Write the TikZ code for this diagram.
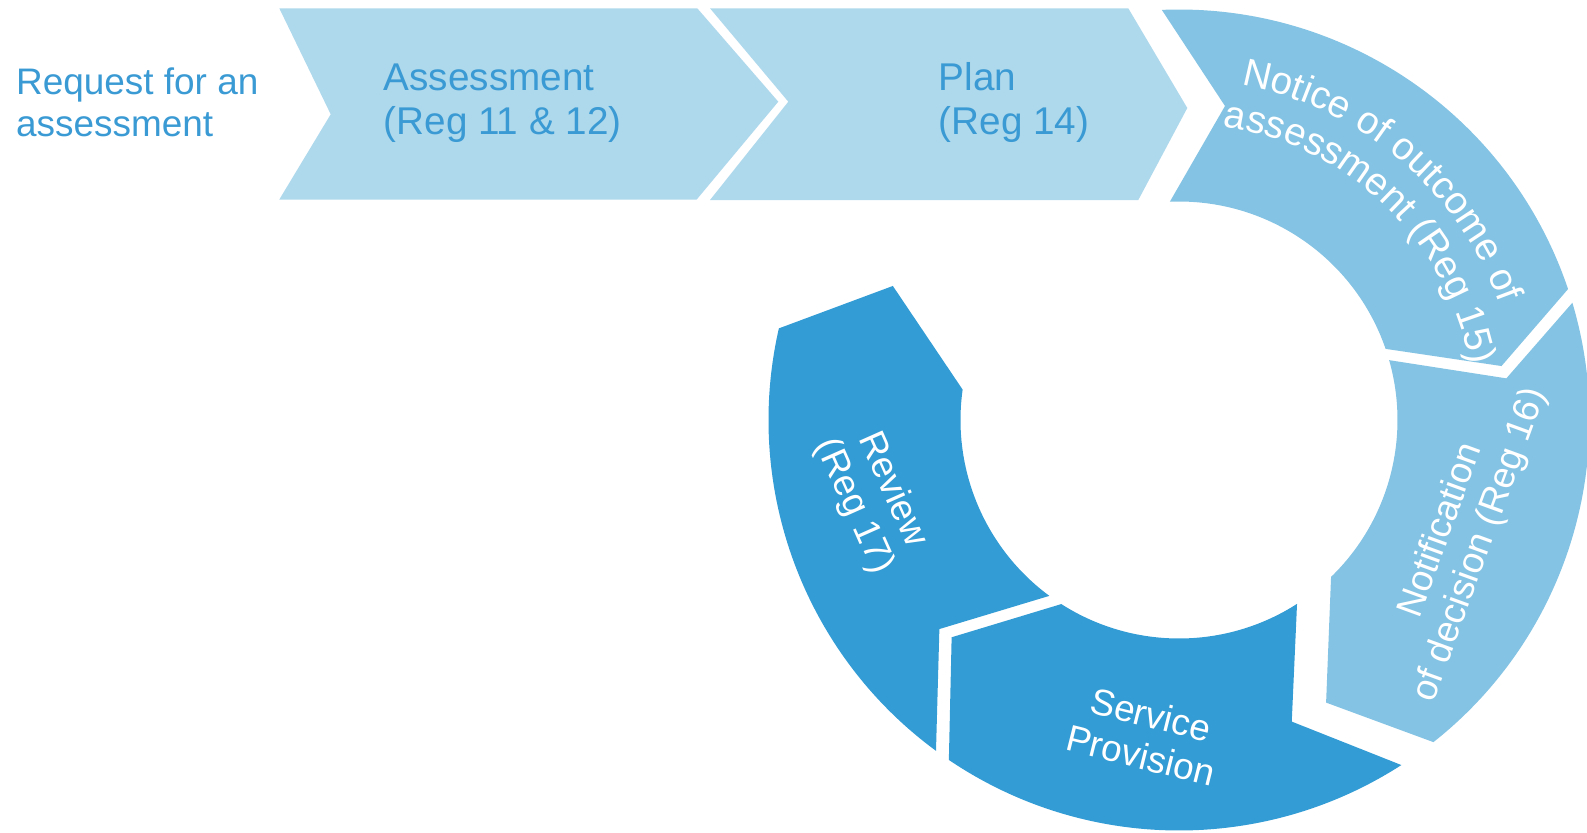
\documentclass[tikz,border=0pt]{standalone}
\usepackage{fontspec}
\setmainfont{Liberation Sans}
\usepackage{xcolor}
\usetikzlibrary{decorations.text}

\definecolor{chevronblue}{HTML}{AED8EC}
\definecolor{ringblue}{HTML}{84C3E3}
\definecolor{darkblue}{HTML}{339CD4}
\definecolor{labelblue}{HTML}{3A9AD3}

\newcommand{\ringfont}{\fontsize{10.5}{11.9}\selectfont}
\newcommand{\bigringfont}{\fontsize{11}{12.3}\selectfont}

\begin{document}
\begin{tikzpicture}[
    x=0.01cm, y=0.01cm,
    every node/.style={font=\ringfont, inner sep=0pt},
    chevron/.style={fill=chevronblue},
    pale/.style={fill=ringblue},
    deep/.style={fill=darkblue},
    steplabel/.style={text=labelblue, align=left, anchor=base west},
    ringlabel/.style={text=white, align=center}
]
\useasboundingbox (0,0) rectangle (1587,832);

% chevrons along the top
\fill[chevron] (279.3,823.7) -- (697.3,823.7) -- (778.3,730.3) -- (696.7,632.5)
    -- (279.3,632.5) -- (330.7,717.7) -- cycle;
\fill[chevron] (710,823.7) -- (1128.3,823.7) -- (1187.3,724) -- (1138.3,632)
    -- (710,632) -- (788.3,730.3) -- cycle;

% base anchor sits on the last line
\node (request) [steplabel] at (15.5,696) {Request for an\\assessment};
\node (assess)  [steplabel, font=\bigringfont] at (383,698) {Assessment\\(Reg 11 \& 12)};
\node (plan)    [steplabel, font=\bigringfont] at (938,698) {Plan\\(Reg 14)};

% ring segments, centred on (1179,412)
\begin{scope}[shift={(1179,412)}]
\fill[pale] (92.4:410.5) arc[start angle=92.4, end angle=18.6, radius=410.5]
    -- (9.5:327) -- (19:218.5) arc[start angle=19, end angle=92.4, radius=218.5]
    -- (46,314) -- cycle;
\fill[pale] (16.6:410.5) arc[start angle=16.6, end angle=-51.7, radius=410.5]
    -- (-62.5:318.6) -- (-45.9:218.5) arc[start angle=-45.9, end angle=15.9, radius=218.5]
    -- (7.25:330) -- cycle;
\fill[deep] (-57.2:410.5) arc[start angle=-57.2, end angle=-124.1, radius=410.5]
    -- (-136.3:314.5) -- (-122.6:218.5) arc[start angle=-122.6, end angle=-57.3, radius=218.5]
    -- (-69.5:322) -- cycle;
\fill[deep] (-126.3:410.5) arc[start angle=-126.3, end angle=-192.9, radius=410.5]
    -- (154.9:316) -- (172:218.5) arc[start angle=172, end angle=233.6, radius=218.5]
    -- (-138.9:318) -- cycle;

% curved label on the first segment
\path[decorate, decoration={text along path, text align=left, text color=white,
    text={|\bigringfont|Notice of outcome of}}]
    (79.5:341) arc[start angle=79.5, end angle=5, radius=341];
\path[decorate, decoration={text along path, text align=left, text color=white,
    text={|\bigringfont|assessment (Reg 15)}}]
    (81.5:297) arc[start angle=81.5, end angle=-8, radius=297];
\end{scope}

\node (decision) [ringlabel, rotate=70] at (1461,294) {Notification\\of decision (Reg 16)};
\node (service)  [ringlabel, rotate=-14] at (1146,97) {Service\\Provision};
\node (review)   [ringlabel, rotate=-66] at (873,334) {Review\\(Reg 17)};

\end{tikzpicture}
\end{document}
